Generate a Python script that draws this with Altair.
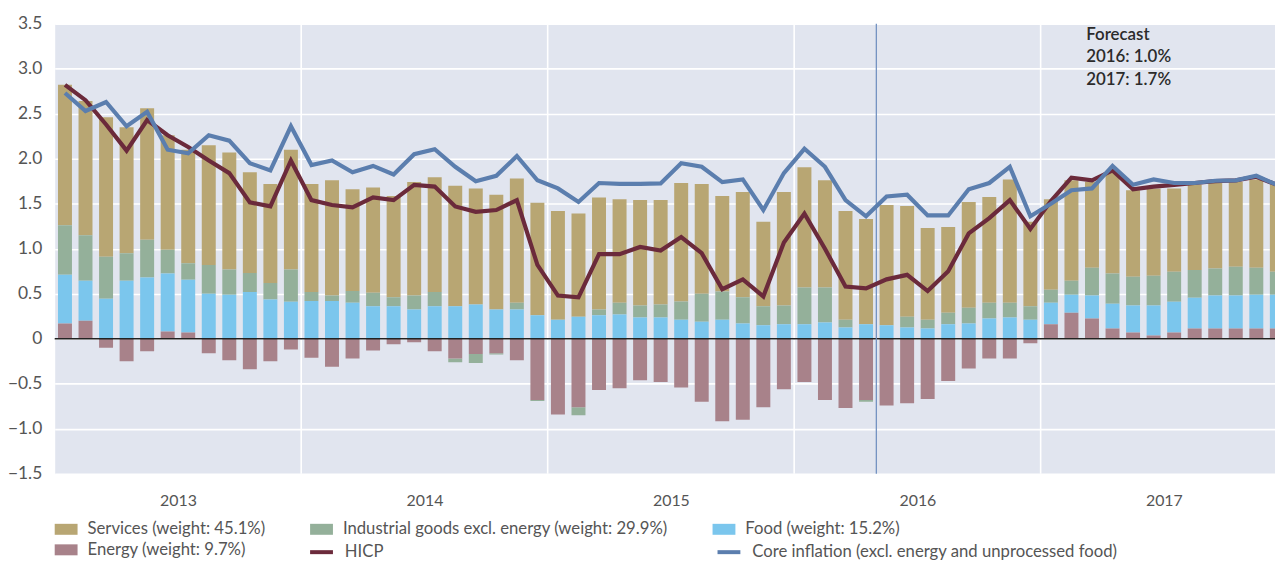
import altair as alt
import pandas as pd

# ---------------- data ----------------
months = pd.date_range("2013-01-01", periods=60, freq="MS").strftime("%Y-%m").tolist()
years = ["2013", "2014", "2015", "2016", "2017"]

energy = [0.17, 0.20, -0.10, -0.25, -0.14, 0.08, 0.07, -0.16, -0.24, -0.34, -0.25, -0.12,
          -0.21, -0.31, -0.22, -0.13, -0.06, -0.04, -0.14, -0.22, -0.17, -0.16, -0.24, -0.68,
          -0.84, -0.76, -0.57, -0.55, -0.46, -0.48, -0.54, -0.70, -0.915, -0.90, -0.76, -0.56,
          -0.48, -0.68, -0.77, -0.68, -0.74, -0.715, -0.67, -0.47, -0.33, -0.22, -0.22, -0.05,
          0.16, 0.29, 0.225, 0.115, 0.07, 0.035, 0.07, 0.115, 0.115, 0.115, 0.115, 0.115]
food = [0.54, 0.445, 0.445, 0.645, 0.68, 0.645, 0.585, 0.50, 0.49, 0.52, 0.435, 0.41,
        0.42, 0.42, 0.40, 0.36, 0.36, 0.325, 0.36, 0.36, 0.38, 0.325, 0.325, 0.26,
        0.21, 0.245, 0.26, 0.27, 0.235, 0.235, 0.21, 0.19, 0.21, 0.17, 0.15, 0.16,
        0.16, 0.18, 0.125, 0.16, 0.15, 0.125, 0.115, 0.16, 0.17, 0.225, 0.235, 0.21,
        0.24, 0.20, 0.255, 0.275, 0.30, 0.335, 0.34, 0.34, 0.365, 0.365, 0.375, 0.375]
industrial = [0.55, 0.505, 0.465, 0.305, 0.42, 0.265, 0.185, 0.32, 0.28, 0.21, 0.185, 0.36,
              0.10, 0.06, 0.13, 0.15, 0.10, 0.155, 0.16, -0.04, -0.10, -0.015, 0.075, -0.01,
              0.0, -0.09, 0.065, 0.13, 0.135, 0.145, 0.205, 0.31, 0.315, 0.29, 0.21, 0.21,
              0.41, 0.39, 0.085, -0.02, 0.0, 0.12, 0.095, 0.13, 0.175, 0.175, 0.165, 0.15,
              0.145, 0.155, 0.31, 0.335, 0.32, 0.33, 0.335, 0.31, 0.30, 0.32, 0.30, 0.255]
services = [1.56, 1.49, 1.55, 1.40, 1.46, 1.27, 1.26, 1.33, 1.30, 1.12, 1.10, 1.33,
            1.20, 1.28, 1.13, 1.17, 1.125, 1.26, 1.275, 1.34, 1.29, 1.275, 1.38, 1.25,
            1.21, 1.145, 1.245, 1.15, 1.17, 1.16, 1.315, 1.22, 1.06, 1.17, 0.94, 1.26,
            1.335, 1.19, 1.21, 1.17, 1.335, 1.23, 1.02, 0.95, 1.175, 1.175, 1.37, 0.94,
            1.005, 1.115, 0.955, 1.13, 0.96, 0.97, 0.925, 0.945, 0.95, 0.945, 0.98, 0.965]
hicp = [2.82, 2.65, 2.38, 2.09, 2.43, 2.26, 2.13, 1.98, 1.84, 1.515, 1.47, 1.98,
        1.54, 1.485, 1.46, 1.57, 1.54, 1.71, 1.69, 1.47, 1.41, 1.43, 1.54, 0.82,
        0.48, 0.46, 0.94, 0.94, 1.02, 0.98, 1.13, 0.95, 0.55, 0.66, 0.47, 1.07,
        1.39, 1.00, 0.58, 0.56, 0.66, 0.71, 0.53, 0.75, 1.17, 1.34, 1.54, 1.22,
        1.53, 1.79, 1.76, 1.87, 1.66, 1.69, 1.71, 1.73, 1.75, 1.76, 1.80, 1.71]
core = [2.73, 2.53, 2.63, 2.36, 2.52, 2.10, 2.06, 2.26, 2.20, 1.95, 1.87, 2.36,
        1.93, 1.98, 1.85, 1.92, 1.825, 2.05, 2.105, 1.91, 1.75, 1.81, 2.03, 1.76,
        1.67, 1.52, 1.73, 1.72, 1.72, 1.725, 1.95, 1.91, 1.74, 1.77, 1.43, 1.84,
        2.11, 1.91, 1.54, 1.36, 1.58, 1.60, 1.37, 1.37, 1.66, 1.73, 1.91, 1.36,
        1.50, 1.65, 1.67, 1.92, 1.71, 1.77, 1.73, 1.73, 1.755, 1.76, 1.81, 1.71]

bar_names = ["Services (weight: 45.1%)",
             "Industrial goods excl. energy (weight: 29.9%)",
             "Food (weight: 15.2%)",
             "Energy (weight: 9.7%)"]
line_names = ["HICP", "Core inflation (excl. energy and unprocessed food)"]
forecast_start = "2016-05"
forecast_note = "Forecast\n2016: 1.0%\n2017: 1.7%"

# ---------------- styles ----------------
bar_colors = ["#b8a673", "#94b09a", "#7bc6ed", "#a8828a"]
line_colors = ["#6b2a3b", "#5b7eae"]
bg = "#e1e5ef"
FONT = "Lato"
TXT = "#555555"
LEG_FS = 16.8

# ---------------- tables ----------------
bar_series = [services, industrial, food, energy]
stack_order = [3, 2, 1, 0]
bar_rows = []
for name, vals, o in zip(bar_names, bar_series, stack_order):
    for t, (m, v) in enumerate(zip(months, vals)):
        bar_rows.append({"month": m, "t": t, "series": name, "value": v, "ord": o})
bar_df = pd.DataFrame(bar_rows)

line_rows = []
for name, vals in zip(line_names, [hicp, core]):
    for t, (m, v) in enumerate(zip(months, vals)):
        line_rows.append({"month": m, "t": t, "series": name, "value": v})
line_df = pd.DataFrame(line_rows)

year_df = pd.DataFrame({"t": [12 * k for k in range(1, len(years))]})
fc_df = pd.DataFrame({"t": [months.index(forecast_start)]})
zero_df = pd.DataFrame({"y": [0.0]})
note_df = pd.DataFrame({"txt": [forecast_note]})

x_dom = [0, 59.41]
xscale = alt.Scale(domain=x_dom, nice=False, zero=False, padding=0)
yscale = alt.Scale(domain=[-1.5, 3.5], nice=False, padding=0)
year_js = "[" + ",".join("'%s'" % y for y in years) + "]"

x_axis = alt.Axis(values=[12 * k + 6 for k in range(len(years))],
                  labelExpr=year_js + "[round((datum.value - 6) / 12)]",
                  grid=False, domain=False, ticks=False, labelPadding=19,
                  labelFontSize=16, labelColor=TXT, labelFont=FONT, title=None)
y_axis = alt.Axis(values=[-1.5 + 0.5 * k for k in range(11)],
                  labelExpr="datum.value == 0 ? '0' : format(datum.value, '.1f')",
                  grid=True, gridColor="white", gridWidth=1.6, domain=False, ticks=False,
                  labelPadding=13, labelFontSize=17.5, labelColor=TXT, labelFont=FONT, title=None)

grid_v = alt.Chart(year_df).mark_rule(color="white", strokeWidth=1.6).encode(
    x=alt.X("t:Q", scale=xscale, axis=x_axis)
)

bars = alt.Chart(bar_df).transform_stack(
    stack="value", groupby=["t"], as_=["v0", "v1"],
    sort=[alt.SortField("ord", order="ascending")], offset="zero"
).transform_calculate(
    x0="datum.t + 0.16", x1="datum.t + 0.84"
).mark_bar(clip=True).encode(
    x=alt.X("x0:Q", scale=xscale, axis=x_axis),
    x2="x1:Q",
    y=alt.Y("v0:Q", scale=yscale, axis=y_axis),
    y2="v1:Q",
    fill=alt.Fill("series:N", scale=alt.Scale(domain=bar_names, range=bar_colors),
                  legend=alt.Legend(orient="none", legendX=0, legendY=497, direction="horizontal",
                                    columns=3, columnPadding=45, rowPadding=0, padding=0,
                                    symbolType="M-1,-0.48H1V0.48H-1Z", symbolSize=529,
                                    symbolStrokeWidth=0, labelOffset=10, labelLimit=600,
                                    labelFont=FONT, labelFontSize=LEG_FS, labelColor=TXT, title=None)),
)

zero = alt.Chart(zero_df).mark_rule(color="#222222", strokeWidth=1.3).encode(
    y=alt.Y("y:Q", scale=yscale)
)

fc_rule = alt.Chart(fc_df).mark_rule(color="#6a8bbd", strokeWidth=1.2).encode(
    x=alt.X("t:Q", scale=xscale)
)

lines = alt.Chart(line_df).transform_calculate(
    xc="datum.t + 0.5"
).mark_line(clip=True, strokeWidth=4.2, strokeJoin="miter").encode(
    x=alt.X("xc:Q", scale=xscale),
    y=alt.Y("value:Q", scale=yscale),
    stroke=alt.Stroke("series:N", scale=alt.Scale(domain=line_names, range=line_colors),
                      legend=alt.Legend(orient="none", legendX=255, legendY=518, direction="horizontal",
                                        columns=2, columnPadding=328, padding=0,
                                        symbolType="stroke", symbolSize=529, symbolStrokeWidth=4,
                                        labelOffset=10, labelLimit=600,
                                        labelFont=FONT, labelFontSize=LEG_FS, labelColor=TXT, title=None)),
    order=alt.Order("t:Q"),
)

note = alt.Chart(note_df).mark_text(
    align="left", baseline="top", lineBreak="\n", lineHeight=23,
    font=FONT, fontSize=17, fontWeight=600, color="#2b2b2b"
).encode(text="txt:N", x=alt.value(1038), y=alt.value(3))

chart = alt.layer(grid_v, bars, zero, fc_rule, lines, note).properties(
    width=1228, height=453,
    autosize=alt.AutoSizeParams(type="none"),
    padding={"left": 47, "top": 14, "right": 0, "bottom": 87},
).configure(
    font=FONT,
    view=alt.ViewConfig(fill=bg, strokeOpacity=0),
)

chart.save("out.html", embed_options={"renderer": "svg", "actions": False})
